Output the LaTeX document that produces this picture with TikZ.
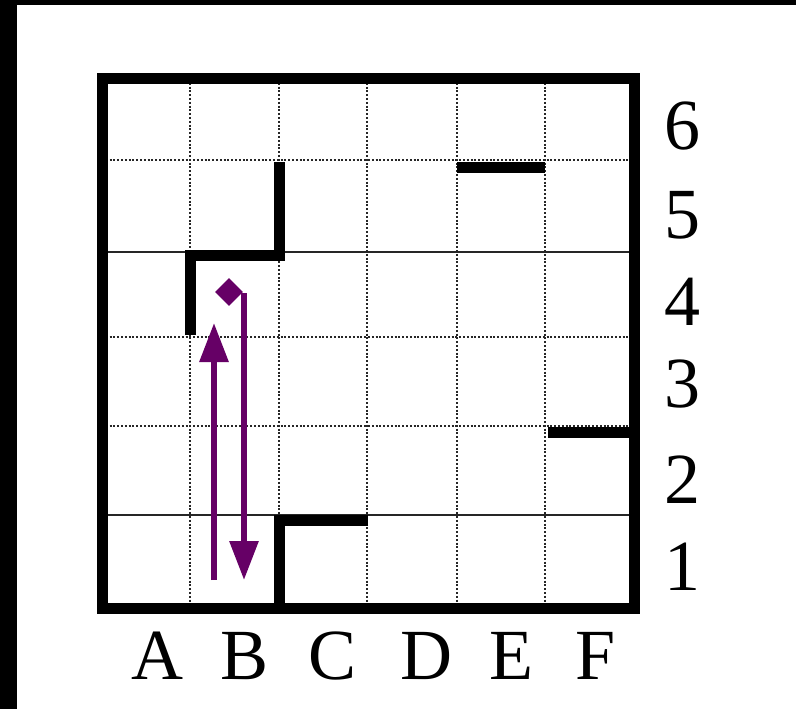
\documentclass[tikz,border=0pt]{standalone}
\usepackage{fontspec}
\setmainfont{Liberation Serif}
\usetikzlibrary{arrows.meta,shapes.geometric}
\definecolor{routecol}{HTML}{660066}
\begin{document}
\begin{tikzpicture}[x=1pt,y=-1pt,
  gridline/.style={black!85,line width=1.6pt,dash pattern=on 2pt off 1.8pt},
  thingrid/.style={black!85,line width=1.2pt},
  wall/.style={black,line width=11pt,line join=miter},
  lbl/.style={font=\fontsize{72}{80}\selectfont,inner sep=0pt,anchor=center},
  marker/.style={diamond,fill=routecol,minimum width=28pt,minimum height=28pt,inner sep=0pt},
  route/.style={routecol,line width=6pt,-{Triangle[width=28pt,length=39pt]}}]
\useasboundingbox (0,0) rectangle (796,709);
\fill[white] (0,0) rectangle (796,709);
% scan frame
\fill[black] (0,0) rectangle (17,709);
\fill[black] (0,0) rectangle (796,5);
% grid lines
\foreach \gx in {190,279,367,457,545}{
  \draw[gridline] (\gx,79) -- (\gx,608);
}
\foreach \gy in {160,337,426}{
  \draw[gridline] (102,\gy) -- (634,\gy);
}
\foreach \gy in {252,515}{
  \draw[thingrid] (102,\gy) -- (634,\gy);
}
% walls
\draw[wall] (190,335) -- (190,255) -- (279,255) -- (279,162);
\draw[wall] (457,167) -- (545,167);
\draw[wall] (548,432) -- (634,432);
\draw[wall] (368,520) -- (279,520) -- (279,608);
% outer border
\draw[black,line width=11pt,line join=miter] (102,79) rectangle (634,608);
% route
\node[marker] (dia) at (229,292) {};
\coordinate (upstart) at (214,580);
\coordinate (upend) at (214,323);
\coordinate (downstart) at (244,293);
\coordinate (downend) at (244,580);
\draw[route] (upstart) -- (upend);
\draw[route] (downstart) -- (downend);
% row labels
\node[lbl] (r6) at (682,126) {6};
\node[lbl] (r5) at (682,215) {5};
\node[lbl] (r4) at (682,302) {4};
\node[lbl] (r3) at (682,384) {3};
\node[lbl] (r2) at (682,480) {2};
\node[lbl] (r1) at (682,567) {1};
% column labels
\node[lbl] (cA) at (157,656) {A};
\node[lbl] (cB) at (245,656) {B};
\node[lbl] (cC) at (333,656) {C};
\node[lbl] (cD) at (426,656) {D};
\node[lbl] (cE) at (511,656) {E};
\node[lbl] (cF) at (596,656) {F};
\end{tikzpicture}
\end{document}
